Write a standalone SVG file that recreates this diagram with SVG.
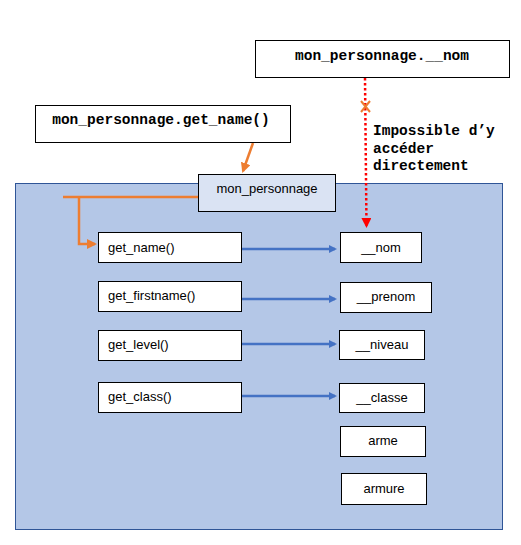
<svg xmlns="http://www.w3.org/2000/svg" width="521" height="545" viewBox="0 0 521 545">
<style>
.box{fill:#fff;stroke:#000;stroke-width:1}
.t{font-family:"Liberation Sans",Arial,sans-serif;font-size:13px;fill:#000}
.m{font-family:"Liberation Mono","Courier New",monospace;font-size:14.5px;fill:#000;font-weight:bold}
.blue{stroke:#4472c4;stroke-width:2.5;fill:none}
.orange{stroke:#ed7d31;stroke-width:2.5;fill:none}
</style>
<defs>
<marker id="ab" markerWidth="8" markerHeight="8" refX="6" refY="4" orient="auto" markerUnits="userSpaceOnUse"><path d="M0,0 L8,4 L0,8 z" fill="#4472c4"/></marker>
<marker id="ao" markerWidth="10" markerHeight="10" refX="8" refY="5" orient="auto" markerUnits="userSpaceOnUse"><path d="M0,0 L10,5 L0,10 z" fill="#ed7d31"/></marker>
<marker id="ar" markerWidth="10" markerHeight="10" refX="8" refY="5" orient="auto" markerUnits="userSpaceOnUse"><path d="M0,0 L10,5 L0,10 z" fill="#ff0000"/></marker>
</defs>
<rect x="0" y="0" width="521" height="545" fill="#fff"/>
<g id="container"><rect x="15.5" y="183.5" width="487" height="346" fill="#b4c7e7" stroke="#2f5597" stroke-width="1"/></g>
<g id="connectors">
<path class="orange" d="M253,143 L243,171" marker-end="url(#ao)"/>
<path class="orange" d="M198,197 L63,197 M79,197 L79,244 L95,244" marker-end="url(#ao)"/>
<path class="blue" d="M242,249 L335,249" marker-end="url(#ab)"/>
<path class="blue" d="M242,299 L335,299" marker-end="url(#ab)"/>
<path class="blue" d="M242,344 L335,344" marker-end="url(#ab)"/>
<path class="blue" d="M242,396 L335,396" marker-end="url(#ab)"/>
<path d="M365,78 L366.5,226" stroke="#ff0000" stroke-width="2.5" stroke-dasharray="2.5,2.5" fill="none" marker-end="url(#ar)"/>
<path d="M361,101 L370,112 M370,101 L361,112" stroke="#ed7d31" stroke-width="2" fill="none"/>
</g>
<g id="nom_access"><rect class="box" x="255.5" y="40.5" width="254" height="37"/><text class="m" x="382" y="60" text-anchor="middle">mon_personnage.__nom</text></g>
<g id="get_name_call"><rect class="box" x="35.5" y="105.5" width="255" height="37"/><text class="m" x="161" y="124" text-anchor="middle">mon_personnage.get_name()</text></g>
<g id="label"><text class="m" x="373" y="135">Impossible d’y</text><text class="m" x="373" y="153">accéder</text><text class="m" x="373" y="170">directement</text></g>
<g id="mon_personnage"><rect x="198.5" y="174.5" width="137" height="37" fill="#dae3f3" stroke="#000"/><text class="t" x="267" y="193" text-anchor="middle">mon_personnage</text></g>
<g id="get_name"><rect class="box" x="98.5" y="232.5" width="143" height="30"/><text class="t" x="108" y="252">get_name()</text></g>
<g id="get_firstname"><rect class="box" x="98.5" y="281.5" width="143" height="30"/><text class="t" x="108" y="300">get_firstname()</text></g>
<g id="get_level"><rect class="box" x="98.5" y="330.5" width="143" height="30"/><text class="t" x="108" y="349">get_level()</text></g>
<g id="get_class"><rect class="box" x="98.5" y="382.5" width="143" height="30"/><text class="t" x="108" y="401">get_class()</text></g>
<g id="nom"><rect class="box" x="340.5" y="232.5" width="81" height="30"/><text class="t" x="381" y="252" text-anchor="middle">__nom</text></g>
<g id="prenom"><rect class="box" x="340.5" y="282.5" width="91" height="30"/><text class="t" x="386" y="301" text-anchor="middle">__prenom</text></g>
<g id="niveau"><rect class="box" x="339.5" y="330.5" width="85" height="29"/><text class="t" x="382" y="349" text-anchor="middle">__niveau</text></g>
<g id="classe"><rect class="box" x="339.5" y="383.5" width="85" height="29"/><text class="t" x="382" y="402" text-anchor="middle">__classe</text></g>
<g id="arme"><rect class="box" x="340.5" y="426.5" width="85" height="30"/><text class="t" x="383" y="445" text-anchor="middle">arme</text></g>
<g id="armure"><rect class="box" x="341.5" y="473.5" width="85" height="31"/><text class="t" x="384" y="493" text-anchor="middle">armure</text></g>
</svg>
